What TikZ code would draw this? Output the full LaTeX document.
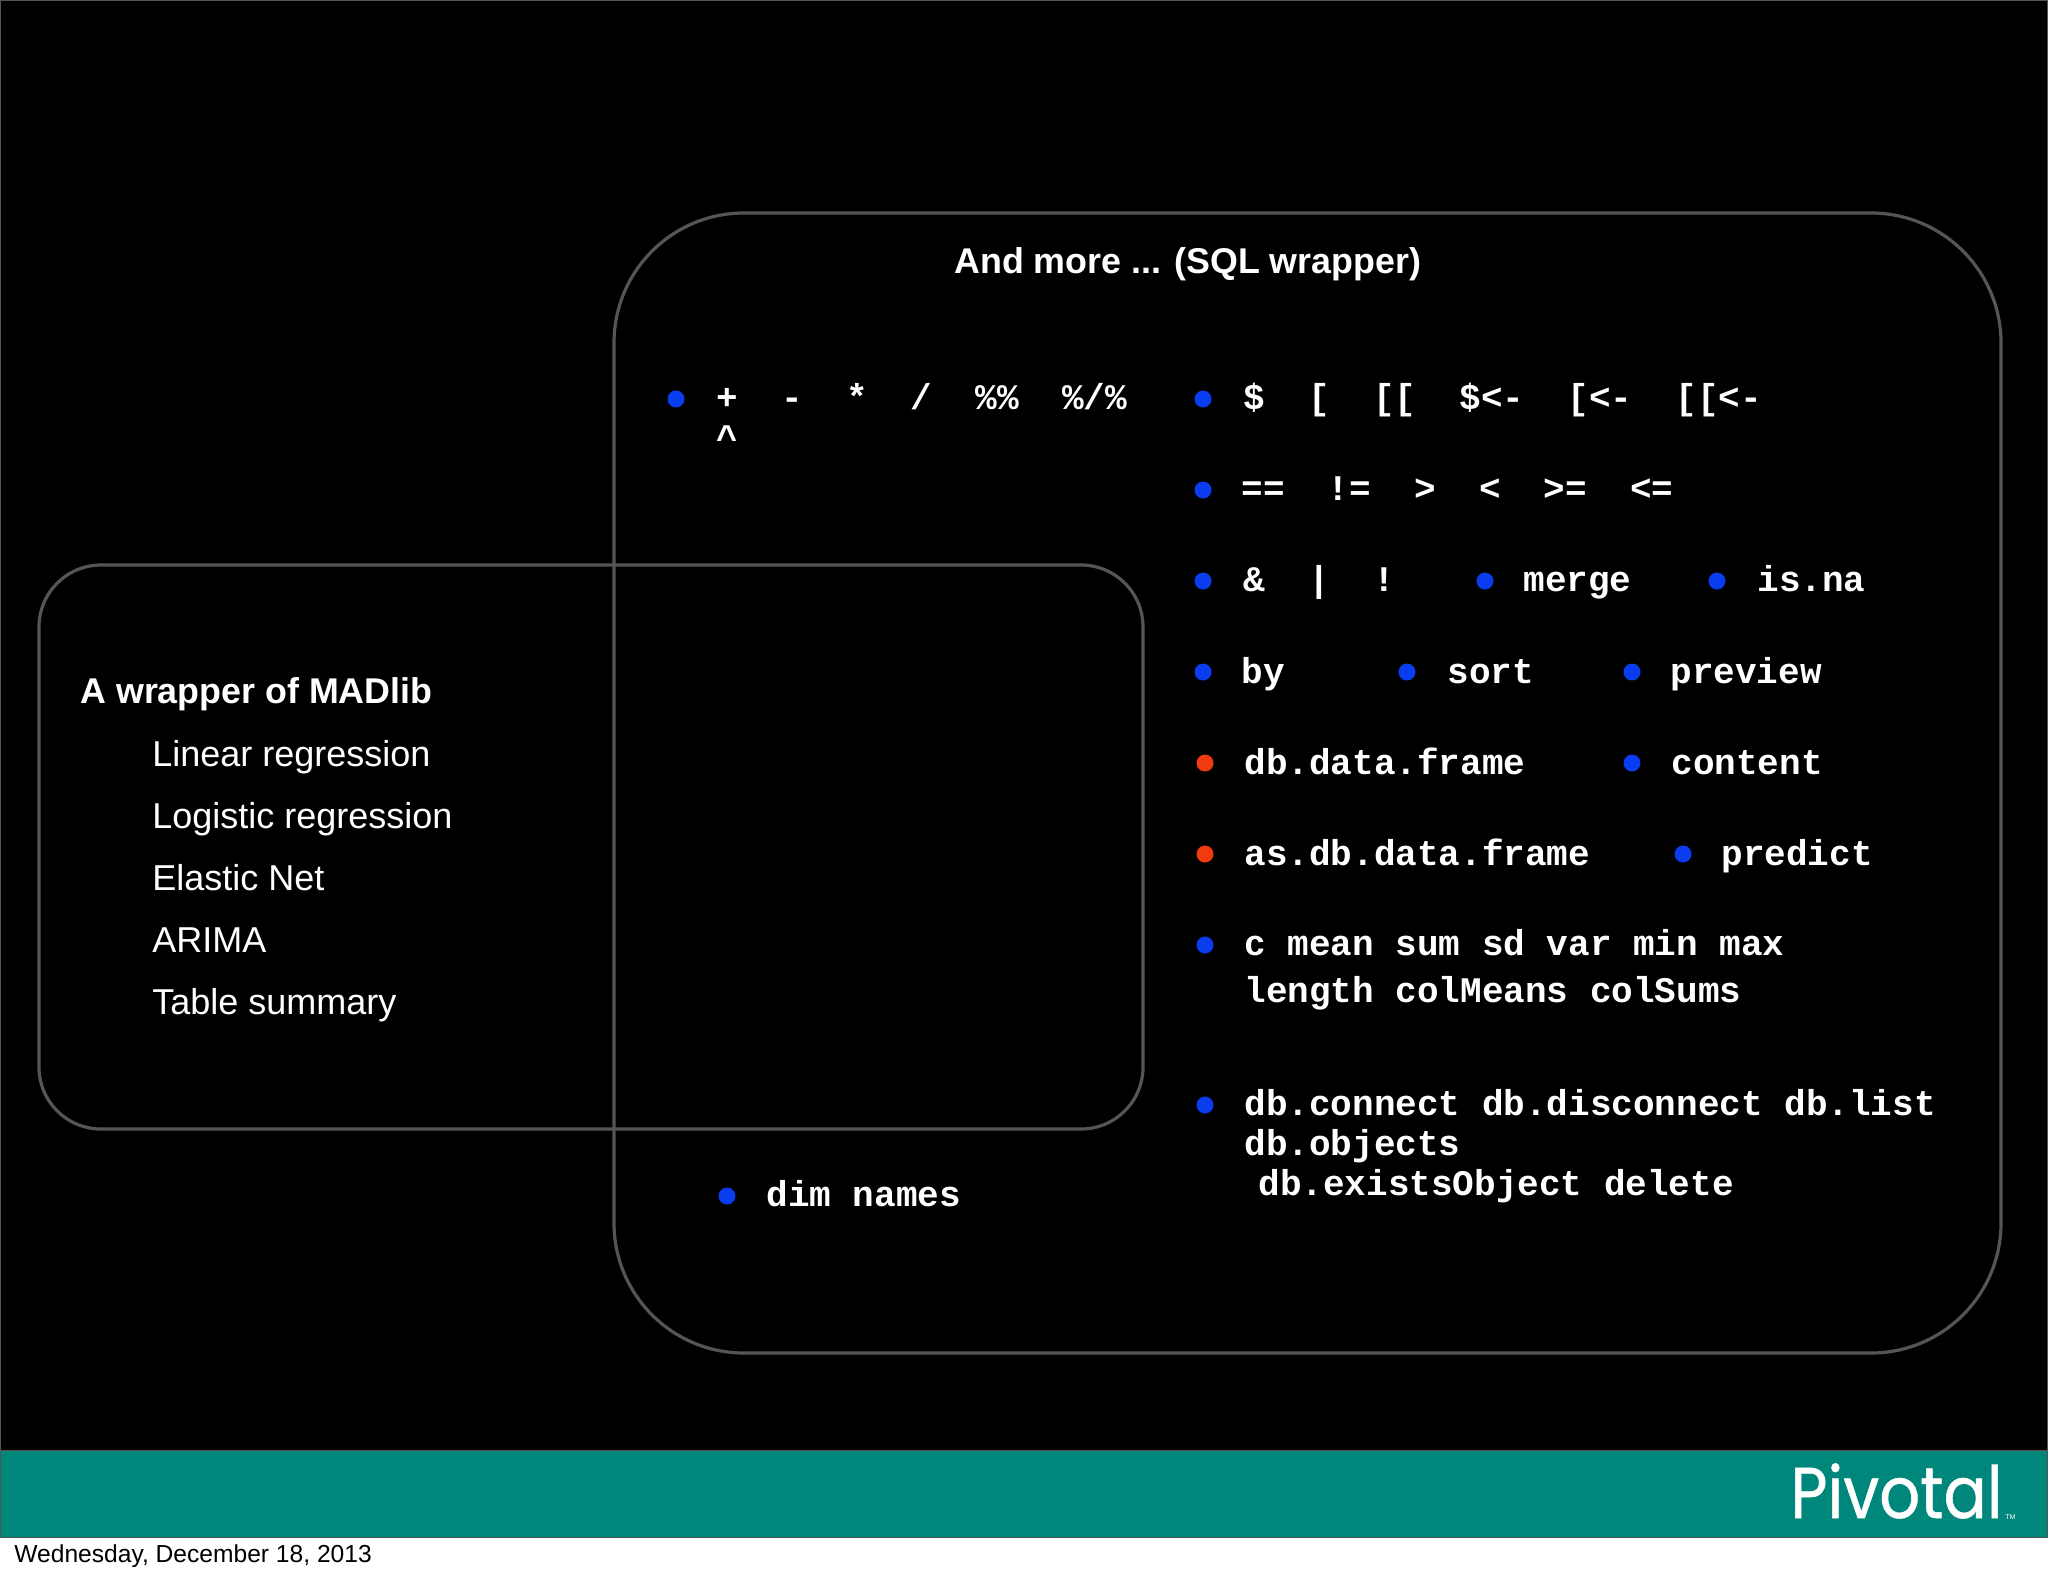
\documentclass[tikz,border=0pt]{standalone}
\usepackage{fontspec}
\setmainfont{Liberation Sans}
\setmonofont{Liberation Mono}
\newfontfamily\logofont[FakeStretch=0.89,FakeBold=0.7]{Poppins}
\definecolor{slideteal}{HTML}{00877C}
\definecolor{panelgray}{HTML}{555555}
\definecolor{dotblue}{HTML}{0A3CF0}
\definecolor{dotred}{HTML}{F03A10}
\tikzset{
  panel/.style={draw=panelgray, line width=1.6pt},
  bluedot/.style={circle, fill=dotblue, inner sep=0pt, minimum size=8.5pt},
  reddot/.style={circle, fill=dotred, inner sep=0pt, minimum size=8.5pt},
  code/.style={anchor=base west, inner sep=0pt, text=white, font=\ttfamily\bfseries\fontsize{18}{18}\selectfont},
  sans/.style={anchor=base west, inner sep=0pt, text=white, font=\fontsize{18}{18}\selectfont},
  sansbold/.style={sans, font=\bfseries\fontsize{17.9}{18}\selectfont}
}
\begin{document}
\begin{tikzpicture}[x=0.5pt, y=-0.5pt]
\useasboundingbox (0,0) rectangle (2048,1576);
\fill[white] (0,0) rectangle (2048,1576);
% slide and footer band
\draw[fill=black, draw=panelgray, line width=0.5pt] (0.5,0.5) rectangle (2047.5,1537);
\draw[fill=slideteal, draw=panelgray, line width=0.5pt] (0.5,1450) rectangle (2047.5,1537);
% the two panels
\draw[panel, rounded corners=65pt] (614,213) rectangle (2001,1353);
\draw[panel, rounded corners=31pt] (39,565) rectangle (1143,1129);
% left panel
\node[sansbold] (madlib) at (80,703) {A wrapper of MADlib};
\node[sans] (linear) at (152,766) {Linear regression};
\node[sans] (logistic) at (152,828) {Logistic regression};
\node[sans] (elastic) at (152,890) {Elastic Net};
\node[sans] (arima) at (152,952) {ARIMA};
\node[sans] (summary) at (152,1014) {Table summary};
% right panel
\node[sansbold] (title) at (954,273) {And more ... (SQL wrapper)};
\node[bluedot] (d1) at (676,399) {};
\node[bluedot] (d2) at (1203,399) {};
\node[bluedot] (d3) at (1203,490) {};
\node[bluedot] (d4) at (1203,581) {};
\node[bluedot] (d5) at (1485,581) {};
\node[bluedot] (d6) at (1717,581) {};
\node[bluedot] (d7) at (1203,672) {};
\node[bluedot] (d8) at (1407,672) {};
\node[bluedot] (d9) at (1632,672) {};
\node[reddot] (d10) at (1205,763) {};
\node[bluedot] (d11) at (1632,763) {};
\node[reddot] (d12) at (1205,854) {};
\node[bluedot] (d13) at (1683,854) {};
\node[bluedot] (d14) at (1205,945) {};
\node[bluedot] (d15) at (1205,1105) {};
\node[bluedot] (d16) at (727,1196) {};
\node[code] (arith) at (716,409) {+~~-~~*~~/~~\%\%~~\%/\%};
\node[code] (caret) at (716,450) {\textasciicircum};
\node[code] (subset) at (1243,409) {\$~~[~~[[~~\$<-~~[<-~~[[<-};
\node[code] (compare) at (1241,500) {==~~!=~~>~~<~~>=~~<=};
\node[code] (logic) at (1243,591) {\&~~|~~!};
\node[code] (merge) at (1523,591) {merge};
\node[code] (isna) at (1757,591) {is.na};
\node[code] (by) at (1241,683) {by};
\node[code] (sort) at (1447,683) {sort};
\node[code] (preview) at (1670,683) {preview};
\node[code] (frame) at (1244,774) {db.data.frame};
\node[code] (content) at (1671,774) {content};
\node[code] (asframe) at (1244,865) {as.db.data.frame};
\node[code] (predict) at (1721,865) {predict};
\node[code] (stats) at (1244,955) {c mean sum sd var min max};
\node[code] (length) at (1244,1002) {length colMeans colSums};
\node[code] (connect) at (1244,1115) {db.connect db.disconnect db.list};
\node[code] (objects) at (1244,1155) {db.objects};
\node[code] (exists) at (1258,1195) {db.existsObject delete};
\node[code] (dim) at (766,1206) {dim names};
% footer
\node[anchor=base west, inner sep=0pt, text=white, font=\logofont\fontsize{36}{36}\selectfont] (logo) at (1790,1518) {Pivotal};
\node[anchor=base west, inner sep=0pt, text=white, font=\fontsize{3.5}{3.5}\selectfont] (tm) at (2005,1519) {TM};
\node[anchor=base west, inner sep=0pt, text=black, font=\fontsize{12.3}{12.3}\selectfont] (date) at (14,1562) {Wednesday, December 18, 2013};
\end{tikzpicture}
\end{document}
